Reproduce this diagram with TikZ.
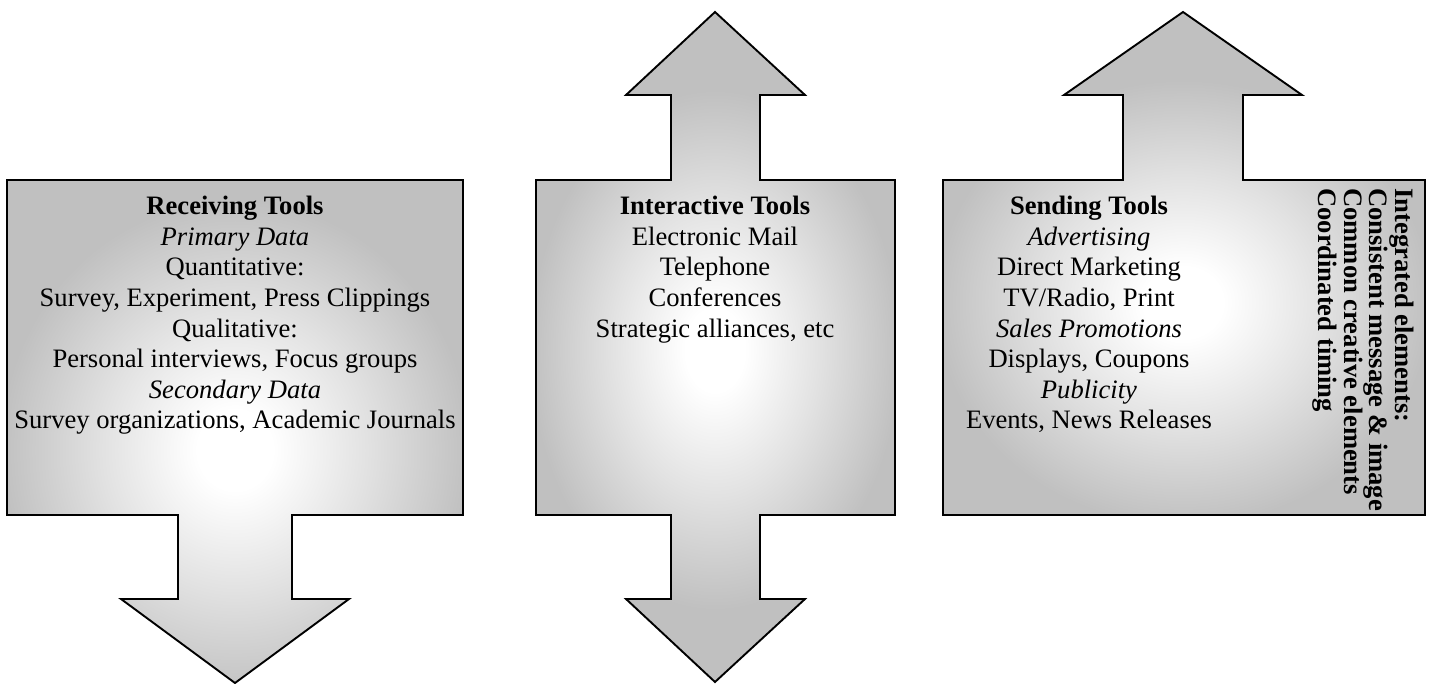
\documentclass[tikz,border=0pt]{standalone}
\usepackage{fontspec}
\setmainfont{Liberation Serif}
\definecolor{shgray}{RGB}{192,192,192}
\definecolor{shmid}{RGB}{226,226,226}
\pgfdeclareradialshading{glow}{\pgfpoint{0bp}{0bp}}{color(0bp)=(white); color(4bp)=(white); color(14bp)=(shmid); color(25bp)=(shgray); color(50bp)=(shgray)}
\begin{document}
\begin{tikzpicture}[x=1pt,y=-1pt,
  outline/.style={draw=black,line width=1.9pt,line join=miter},
  blocktext/.style={align=center,inner sep=0pt,anchor=north,font=\fontsize{26.6}{30.6}\selectfont},
  sidetext/.style={align=left,inner sep=0pt,anchor=north west,rotate=-90,font=\fontsize{26.6}{25.5}\selectfont\bfseries}]
\useasboundingbox (0,0) rectangle (1429,684);

% ---- left shape: receiving (box + down arrow)
\begin{scope}
  \clip (7,180) -- (463,180) -- (463,515) -- (292,515) -- (292,599) -- (349,599) -- (235,683) -- (121,599) -- (178,599) -- (178,515) -- (7,515) -- cycle;
  \fill[shgray] (0,0) rectangle (1429,684);
  \shade[shading=glow] (0,200) rectangle (470,700);
\end{scope}
\draw[outline] (7,180) -- (463,180) -- (463,515) -- (292,515) -- (292,599) -- (349,599) -- (235,683) -- (121,599) -- (178,599) -- (178,515) -- (7,515) -- cycle;

% ---- middle shape: interactive (box + up and down arrows)
\begin{scope}
  \clip (715,12) -- (805,95) -- (760,95) -- (760,180) -- (895,180) -- (895,515) -- (760,515) -- (760,599) -- (805,599) -- (715,682) -- (626,599) -- (671,599) -- (671,515) -- (536,515) -- (536,180) -- (671,180) -- (671,95) -- (626,95) -- cycle;
  \fill[shgray] (0,0) rectangle (1429,684);
  \shade[shading=glow] (530,90) rectangle (900,610);
\end{scope}
\draw[outline] (715,12) -- (805,95) -- (760,95) -- (760,180) -- (895,180) -- (895,515) -- (760,515) -- (760,599) -- (805,599) -- (715,682) -- (626,599) -- (671,599) -- (671,515) -- (536,515) -- (536,180) -- (671,180) -- (671,95) -- (626,95) -- cycle;

% ---- right shape: sending (box + up arrow)
\begin{scope}
  \clip (1183,12) -- (1302,95) -- (1243,95) -- (1243,180) -- (1425,180) -- (1425,515) -- (943,515) -- (943,180) -- (1123,180) -- (1123,95) -- (1064,95) -- cycle;
  \fill[shgray] (0,0) rectangle (1429,684);
  \shade[shading=glow] (935,80) rectangle (1431,525);
\end{scope}
\draw[outline] (1183,12) -- (1302,95) -- (1243,95) -- (1243,180) -- (1425,180) -- (1425,515) -- (943,515) -- (943,180) -- (1123,180) -- (1123,95) -- (1064,95) -- cycle;

% ---- texts
\node[blocktext] (recv) at (235,196) {\textbf{Receiving Tools}\\ \textit{Primary Data}\\ Quantitative:\\ Survey, Experiment, Press Clippings\\ Qualitative:\\ Personal interviews, Focus groups\\ \textit{Secondary Data}\\ Survey organizations, Academic Journals};

\node[blocktext] (inter) at (715,196) {\textbf{Interactive Tools}\\ Electronic Mail\\ Telephone\\ Conferences\\ Strategic alliances, etc};

\node[blocktext] (send) at (1089,196) {\textbf{Sending Tools}\\ \textit{Advertising}\\ Direct Marketing\\ TV/Radio, Print\\ \textit{Sales Promotions}\\ Displays, Coupons\\ \textit{Publicity}\\ Events, News Releases};

\node[sidetext] (integ) at (1414,188) {Integrated elements:\\ Consistent message \& image\\ Common creative elements\\ Coordinated timing};
\end{tikzpicture}
\end{document}
